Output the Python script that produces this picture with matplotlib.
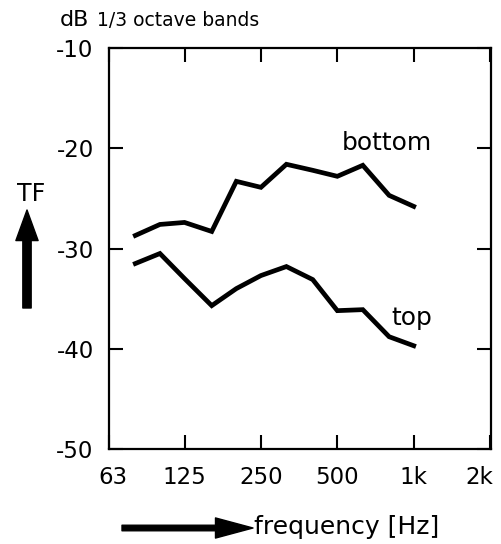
import matplotlib
matplotlib.use("Agg")
import matplotlib.pyplot as plt
import matplotlib.transforms as mtransforms
from matplotlib.patches import FancyArrowPatch

plt.rcParams['font.family'] = ['DejaVu Sans']
plt.rcParams['axes.unicode_minus'] = False

# 1/3 octave band centre frequencies [Hz]
freq = [80, 100, 125, 160, 200, 250, 315, 400, 500, 630, 800, 1000]
# transfer function, dB
tf_bottom = [-28.7, -27.6, -27.4, -28.3, -23.3, -23.9, -21.6, -22.2, -22.8, -21.7, -24.7, -25.8]
tf_top = [-31.5, -30.5, -33.0, -35.7, -34.0, -32.7, -31.8, -33.1, -36.2, -36.1, -38.8, -39.7]

xticks = [63, 125, 250, 500, 1000, 2000]
xlabels = ['63', '125', '250', '500', '1k', '2k']
yticks = [-10, -20, -30, -40, -50]

W, H = 502, 544
fig = plt.figure(figsize=(W / 100, H / 100), dpi=100)
ax = fig.add_axes([109 / W, 1 - 449 / H, 382 / W, 401 / H])

ax.plot(freq, tf_bottom, color='black', lw=3.4, solid_joinstyle='miter')
ax.plot(freq, tf_top, color='black', lw=3.4, solid_joinstyle='miter')

ax.set_xscale('log')
ax.set_xlim(63, 2016)
ax.set_ylim(-50, -10)
ax.set_xticks(xticks)
ax.set_xticklabels(xlabels)
ax.minorticks_off()
ax.set_yticks(yticks)
ax.tick_params(direction='in', length=10, width=1.5, top=True, right=True,
               labelsize=16.5, color='black')
ax.tick_params(axis='x', pad=12)
ax.tick_params(axis='y', pad=11)
for s in ax.spines.values():
    s.set_linewidth(1.6)

# nudge the end labels so they sit inside the picture like the original
tl = ax.get_xticklabels()
tl[0].set_transform(tl[0].get_transform() + mtransforms.ScaledTranslation(4 / 100, 0, fig.dpi_scale_trans))
tl[-1].set_transform(tl[-1].get_transform() + mtransforms.ScaledTranslation(-11 / 100, 0, fig.dpi_scale_trans))

fig.text(387 / W, 1 - 143 / H, 'bottom', ha='center', va='center', fontsize=18)
fig.text(412 / W, 1 - 318 / H, 'top', ha='center', va='center', fontsize=18)

fig.text(74 / W, 1 - 20 / H, 'dB', ha='center', va='center', fontsize=16)
fig.text(97 / W, 1 - 21 / H, '1/3 octave bands', ha='left', va='center', fontsize=13.5)
fig.text(31 / W, 1 - 194 / H, 'TF', ha='center', va='center', fontsize=17)
fig.text(254 / W, 1 - 527 / H, 'frequency [Hz]', ha='left', va='center', fontsize=18)

up = FancyArrowPatch((27 / W, 1 - 308 / H), (27 / W, 1 - 210 / H),
                     transform=fig.transFigure, shrinkA=0, shrinkB=0,
                     arrowstyle='simple,head_length=2.2,head_width=1.6,tail_width=0.6',
                     mutation_scale=10, color='black')
right = FancyArrowPatch((122 / W, 1 - 528 / H), (253 / W, 1 - 528 / H),
                        transform=fig.transFigure, shrinkA=0, shrinkB=0,
                        arrowstyle='simple,head_length=2.7,head_width=1.45,tail_width=0.4',
                        mutation_scale=10, color='black')
fig.add_artist(up)
fig.add_artist(right)

fig.savefig('out.png', dpi=100)
